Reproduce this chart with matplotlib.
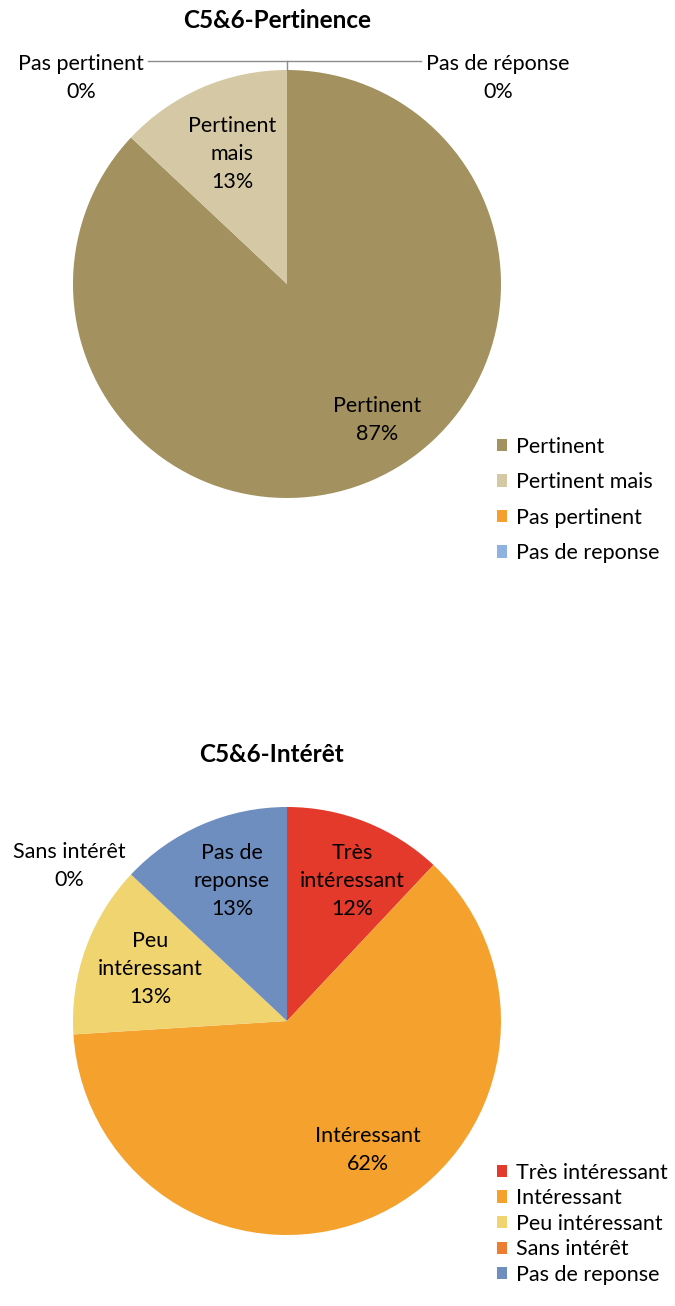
import matplotlib.pyplot as plt

plt.rcParams['font.family'] = ['Lato', 'DejaVu Sans']

# C5&6 - Pertinence
pert_labels = ["Pertinent", "Pertinent mais", "Pas pertinent", "Pas de reponse"]
pert_values = [87, 13, 0, 0]
pert_colors = ["#A3925F", "#D5C9A5", "#F79F2E", "#8FB3E0"]

# C5&6 - Intérêt
int_labels = ["Très intéressant", "Intéressant", "Peu intéressant", "Sans intérêt", "Pas de reponse"]
int_values = [12, 62, 13, 0, 13]
int_colors = ["#E43A2B", "#F4A22D", "#F0D46F", "#EE7D32", "#6F8EC0"]

W, H = 675, 1306
R = 214
fs = 15.5
tfs = 17.5
ls = 1.5

fig = plt.figure(figsize=(W / 100, H / 100), dpi=100)
ax = fig.add_axes([0, 0, 1, 1])


def yy(y):
    # positions measured from the top edge
    return H - y


def label(x, y, s):
    ax.text(x, yy(y), s, ha="center", va="center", fontsize=fs, linespacing=ls)


# top pie
c1 = (287, yy(284))
w1, _ = ax.pie(pert_values, colors=pert_colors, startangle=90, counterclock=False,
               radius=R, center=c1, wedgeprops=dict(linewidth=0))
ax.text(277, yy(20), "C5&6-Pertinence", ha="center", va="center", fontsize=tfs, fontweight="bold")
label(232, 154, "Pertinent\nmais\n13%")
label(377, 420, "Pertinent\n87%")
label(81, 78, "Pas pertinent\n0%")
label(498, 78, "Pas de réponse\n0%")
# leader lines for the 0% slices
ax.plot([148, 421], [yy(61), yy(61)], color="#8C8C8C", lw=1)
ax.plot([287, 287], [yy(61), yy(70)], color="#8C8C8C", lw=1)

leg1 = ax.legend(w1, pert_labels, loc="upper left", bbox_to_anchor=(488 / W, 1 - 428 / H),
                 frameon=False, fontsize=fs, handlelength=0.5, handleheight=0.5,
                 handletextpad=0.4, labelspacing=0.72, borderaxespad=0)
ax.add_artist(leg1)

# bottom pie
c2 = (287, yy(1021))
w2, _ = ax.pie(int_values, colors=int_colors, startangle=90, counterclock=False,
               radius=R, center=c2, wedgeprops=dict(linewidth=0))
ax.text(271, yy(755), "C5&6-Intérêt", ha="center", va="center", fontsize=tfs, fontweight="bold")
label(352, 881, "Très\nintéressant\n12%")
label(232, 881, "Pas de\nreponse\n13%")
label(150, 969, "Peu\nintéressant\n13%")
label(69, 866, "Sans intérêt\n0%")
label(368, 1150, "Intéressant\n62%")

ax.legend(w2, int_labels, loc="upper left", bbox_to_anchor=(488 / W, 1 - 1154 / H),
          frameon=False, fontsize=fs, handlelength=0.5, handleheight=0.5,
          handletextpad=0.4, labelspacing=0.26, borderaxespad=0)

ax.set_xlim(0, W)
ax.set_ylim(0, H)
ax.set_aspect("auto")
ax.axis("off")

fig.savefig("out.png", dpi=100, facecolor="white")
